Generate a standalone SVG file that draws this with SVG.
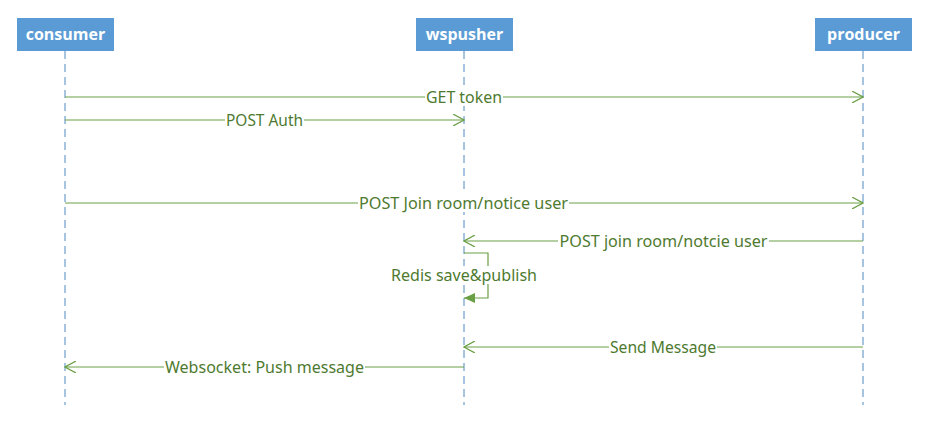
<svg xmlns="http://www.w3.org/2000/svg" width="928" height="433" viewBox="0 0 928 433">
<style>
.box{fill:#5b9bd5}
.bl{font-family:"Open Sans","Liberation Sans",sans-serif;font-weight:bold;font-size:16px;fill:#fff;text-anchor:middle}
.life{stroke:#4f89c0;stroke-width:1;stroke-dasharray:8,5}
.msg{stroke:#6a9f45;stroke-width:1.2;fill:none}
.lbl{font-family:"Noto Sans","Liberation Sans",sans-serif;font-size:16.5px;fill:#4e7a2f;text-anchor:middle}
.bg{fill:#fff}
</style>
<defs>
<marker id="open" viewBox="0 0 12 12" refX="11" refY="6" markerWidth="12" markerHeight="12" markerUnits="userSpaceOnUse" orient="auto">
<path d="M0,0 L11,6 L0,12" fill="none" stroke="#6a9f45" stroke-width="1.2"/>
</marker>
<marker id="fill" viewBox="0 0 12 12" refX="11" refY="6" markerWidth="12" markerHeight="12" markerUnits="userSpaceOnUse" orient="auto">
<path d="M0,1 L11,6 L0,11 Z" fill="#6a9f45"/>
</marker>
</defs>
<g id="consumer">
<line class="life" x1="65" y1="51" x2="65" y2="405"/>
<rect class="box" x="17" y="18" width="97" height="33"/>
<text class="bl" x="65.5" y="40">consumer</text>
</g>
<g id="wspusher">
<line class="life" x1="464" y1="51" x2="464" y2="405"/>
<rect class="box" x="416" y="18" width="97" height="33"/>
<text class="bl" x="464.5" y="40">wspusher</text>
</g>
<g id="producer">
<line class="life" x1="863" y1="51" x2="863" y2="405"/>
<rect class="box" x="815" y="18" width="97" height="33"/>
<text class="bl" x="863.5" y="40">producer</text>
</g>
<g id="connectors">
<line class="msg" x1="65" y1="97" x2="863" y2="97" marker-end="url(#open)"/>
<line class="msg" x1="65" y1="120" x2="464" y2="120" marker-end="url(#open)"/>
<line class="msg" x1="65" y1="203" x2="863" y2="203" marker-end="url(#open)"/>
<line class="msg" x1="863" y1="241" x2="464" y2="241" marker-end="url(#open)"/>
<polyline class="msg" points="464,253 488,253 488,298 464,298" marker-end="url(#fill)"/>
<line class="msg" x1="863" y1="347" x2="464" y2="347" marker-end="url(#open)"/>
<line class="msg" x1="464" y1="367" x2="65" y2="367" marker-end="url(#open)"/>
<rect class="bg" x="425" y="88" width="78" height="18"/>
<text class="lbl" x="464" y="102.5" textLength="76" lengthAdjust="spacingAndGlyphs">GET token</text>
<rect class="bg" x="225" y="111" width="79" height="18"/>
<text class="lbl" x="264.5" y="125.5" textLength="77" lengthAdjust="spacingAndGlyphs">POST Auth</text>
<rect class="bg" x="358" y="194" width="211" height="18"/>
<text class="lbl" x="463.5" y="208.5" textLength="209" lengthAdjust="spacingAndGlyphs">POST Join room/notice user</text>
<rect class="bg" x="558" y="232" width="211" height="18"/>
<text class="lbl" x="663.5" y="246.5" textLength="208" lengthAdjust="spacingAndGlyphs">POST join room/notcie user</text>
<rect class="bg" x="390" y="266" width="148" height="18"/>
<text class="lbl" x="464" y="280.5" textLength="146" lengthAdjust="spacingAndGlyphs">Redis save&amp;publish</text>
<rect class="bg" x="609" y="338" width="108" height="18"/>
<text class="lbl" x="663" y="352.5" textLength="106" lengthAdjust="spacingAndGlyphs">Send Message</text>
<rect class="bg" x="164" y="358" width="201" height="18"/>
<text class="lbl" x="264.5" y="372.5" textLength="199" lengthAdjust="spacingAndGlyphs">Websocket: Push message</text>
</g>
</svg>
